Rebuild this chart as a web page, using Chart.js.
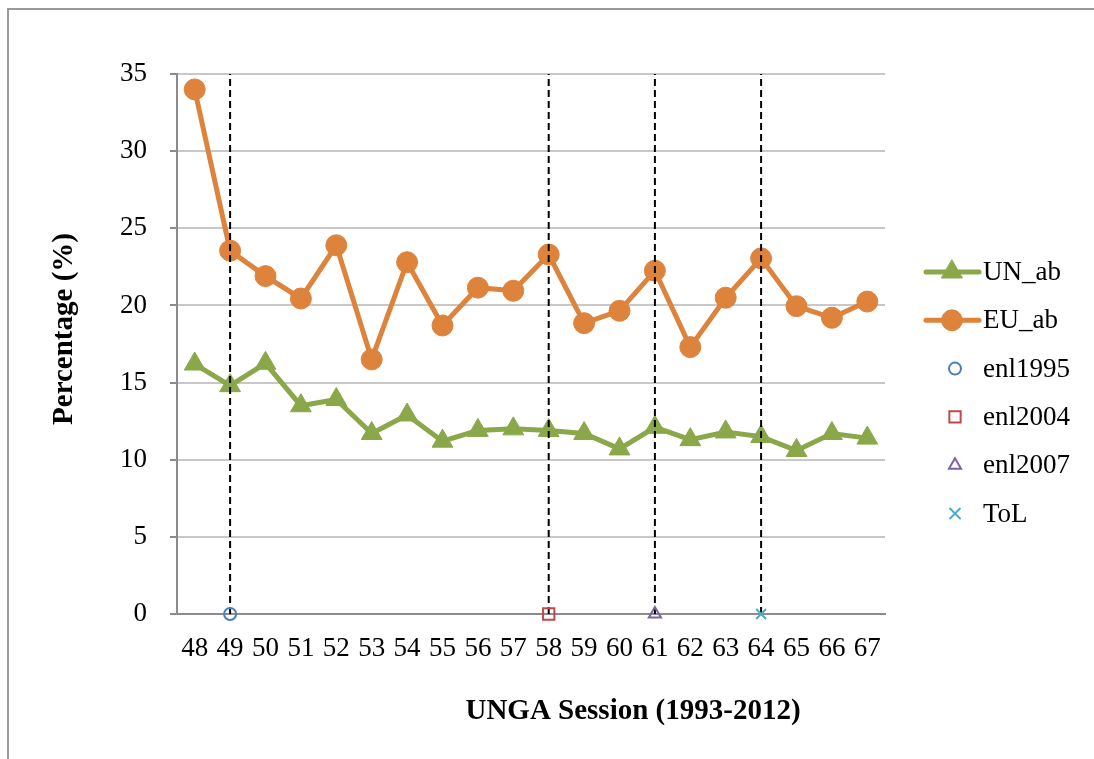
<!DOCTYPE html>
<html>
<head>
<meta charset="utf-8">
<script src="https://cdn.jsdelivr.net/npm/chart.js@4.4.1/dist/chart.umd.min.js"></script>
<style>
  body { margin: 0; overflow: hidden; background: #fff; }
  #wrap { position: relative; width: 1094px; height: 759px; overflow: hidden; }
  #frame { position: absolute; left: 7px; top: 8px; width: 1200px; height: 900px; border: 2px solid #9a9a9a; }
  #chart { position: absolute; left: 0; top: 0; }
</style>
</head>
<body>
<div id="wrap">
  <div id="frame"></div>
  <canvas id="chart" width="1094" height="759"></canvas>
</div>
<script>
const sessions = ['48', '49', '50', '51', '52', '53', '54', '55', '56', '57', '58', '59', '60', '61', '62', '63', '64', '65', '66', '67'];
const unAb = [16.2, 14.8, 16.25, 13.5, 13.9, 11.7, 12.9, 11.2, 11.9, 12.0, 11.9, 11.7, 10.7, 12.1, 11.3, 11.8, 11.5, 10.6, 11.7, 11.4];
const euAb = [34.0, 23.55, 21.9, 20.45, 23.9, 16.5, 22.8, 18.7, 21.15, 20.95, 23.3, 18.85, 19.65, 22.25, 17.3, 20.5, 23.05, 19.95, 19.2, 20.25];
const yTicks = [0, 5, 10, 15, 20, 25, 30, 35];

// enlargement / treaty markers (session where they happened)
const eventNames = ['enl1995', 'enl2004', 'enl2007', 'ToL'];
const eventSessions = ['49', '58', '61', '64'];
const eventStyles = ['circle', 'rect', 'triangle', 'crossRot'];
const eventColors = ['#4a7ebb', '#be4b48', '#7f63a1', '#4bacc6'];
const eventRadius = [6, 8, 7, 7];

const FONT = 'Liberation Serif';
const GREEN = '#8aa84a';
const ORANGE = '#dd833c';

const datasets = [];

eventNames.forEach((name, i) => {
    datasets.push({
        label: name,
        data: [{ x: eventSessions[i], y: 0 }],
        showLine: false,
        clip: false,
        pointStyle: eventStyles[i],
        pointRadius: eventRadius[i],
        pointBorderWidth: 2,
        borderColor: eventColors[i],
        backgroundColor: 'rgba(255,255,255,0)',
        order: 0
    });
});

// dashed vertical lines at each event
eventSessions.forEach((s) => {
    datasets.push({
        label: 'line' + s,
        data: [{ x: s, y: 0 }, { x: s, y: 35 }],
        borderColor: '#000',
        borderWidth: 2,
        borderDash: [7, 4],
        pointRadius: 0,
        order: 1
    });
});

datasets.push({
    label: 'UN_ab',
    data: unAb,
    borderColor: GREEN,
    backgroundColor: GREEN,
    borderWidth: 5,
    pointStyle: 'triangle',
    pointRadius: 12,
    pointBorderWidth: 1,
    order: 2
});
datasets.push({
    label: 'EU_ab',
    data: euAb,
    borderColor: ORANGE,
    backgroundColor: ORANGE,
    borderWidth: 5,
    pointStyle: 'circle',
    pointRadius: 10.5,
    pointBorderWidth: 1,
    order: 2
});

// legend drawn by hand so the line series show a line + marker
const legendItems = [
    { text: 'UN_ab', line: true, color: GREEN, style: 'triangle', radius: 12 },
    { text: 'EU_ab', line: true, color: ORANGE, style: 'circle', radius: 10.5 },
    { text: 'enl1995', color: eventColors[0], style: 'circle', radius: eventRadius[0] },
    { text: 'enl2004', color: eventColors[1], style: 'rect', radius: eventRadius[1] },
    { text: 'enl2007', color: eventColors[2], style: 'triangle', radius: eventRadius[2] },
    { text: 'ToL', color: eventColors[3], style: 'crossRot', radius: eventRadius[3] }
];

const customDraw = {
    id: 'customDraw',
    afterDraw(chart) {
        const ctx = chart.ctx;
        ctx.save();
        // legend
        legendItems.forEach((it, i) => {
            const y = 272 + i * 48.3;
            if (it.line) {
                ctx.strokeStyle = it.color;
                ctx.lineWidth = 5;
                ctx.lineCap = 'round';
                ctx.beginPath();
                ctx.moveTo(926, y);
                ctx.lineTo(979, y);
                ctx.stroke();
                ctx.fillStyle = it.color;
                ctx.lineWidth = 1;
                Chart.helpers.drawPoint(ctx, { pointStyle: it.style, radius: it.radius, borderWidth: 1, rotation: 0 }, 952, y);
            } else {
                ctx.fillStyle = 'rgba(255,255,255,0)';
                ctx.strokeStyle = it.color;
                ctx.lineWidth = 2;
                Chart.helpers.drawPoint(ctx, { pointStyle: it.style, radius: it.radius, borderWidth: 2, rotation: 0 }, 955, y);
            }
            ctx.fillStyle = '#000';
            ctx.font = '27px "' + FONT + '"';
            ctx.textAlign = 'left';
            ctx.textBaseline = 'middle';
            ctx.fillText(it.text, 983, y + 1);
        });
        // axis titles
        ctx.fillStyle = '#000';
        ctx.font = 'bold 29px "' + FONT + '"';
        ctx.textAlign = 'center';
        ctx.textBaseline = 'middle';
        ctx.fillText('UNGA Session (1993-2012)', 633, 712);
        ctx.translate(65, 329);
        ctx.rotate(-Math.PI / 2);
        ctx.fillText('Percentage (%)', 0, 0);
        ctx.restore();
    }
};

const ctx = document.getElementById('chart').getContext('2d');

new Chart(ctx, {
    type: 'line',
    data: {
        labels: sessions,
        datasets: datasets
    },
    options: {
        responsive: false,
        animation: false,
        devicePixelRatio: 1,
        layout: {
            padding: { left: 0, top: 74, right: 209, bottom: 0 }
        },
        plugins: {
            legend: { display: false },
            tooltip: { enabled: false }
        },
        scales: {
            x: {
                type: 'category',
                offset: true,
                grid: { display: false, drawTicks: false },
                border: { display: true, color: '#8c8c8c', width: 2 },
                ticks: {
                    color: '#000',
                    font: { family: FONT, size: 27 },
                    padding: 19,
                    maxRotation: 0,
                    autoSkip: false
                },
                afterFit: (scale) => { scale.height = 145; }
            },
            y: {
                min: 0,
                max: 35,
                afterBuildTicks: (scale) => { scale.ticks = yTicks.map(v => ({ value: v })); },
                grid: { color: '#c8c8c8', lineWidth: 2, tickLength: 7, tickColor: '#8c8c8c' },
                border: { color: '#8c8c8c', width: 2 },
                ticks: {
                    color: '#000',
                    font: { family: FONT, size: 27 },
                    padding: 23
                },
                afterFit: (scale) => { scale.width = 177; }
            }
        }
    },
    plugins: [customDraw]
});
</script>
</body>
</html>
